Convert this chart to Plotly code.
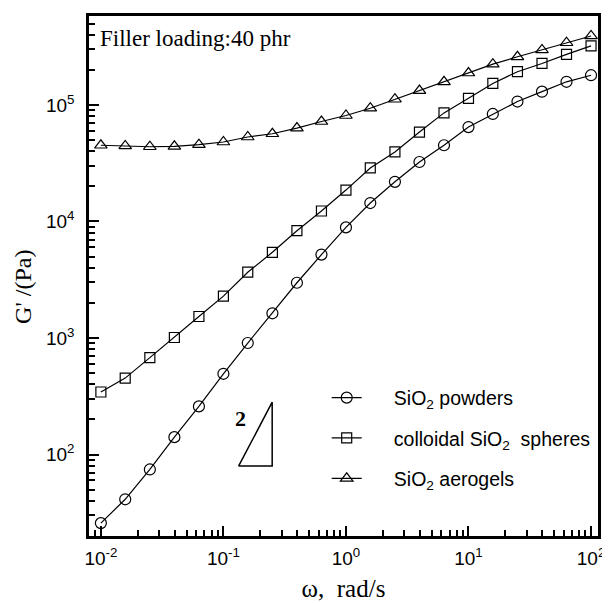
import math
import plotly.graph_objects as go

# ---- data ----
omega = [0.01, 0.0158, 0.0251, 0.0398, 0.0631, 0.1, 0.158, 0.251, 0.398, 0.631,
         1.0, 1.58, 2.51, 3.98, 6.31, 10.0, 15.8, 25.1, 39.8, 63.1, 100.0]

sio2_powders = [25.8, 41.3, 74.5, 141, 259, 493, 906, 1630, 2980, 5200,
                8900, 14400, 21900, 32400, 45100, 64600, 83700, 107000, 130000, 158000, 180000]

colloidal_spheres = [344, 453, 679, 1010, 1530, 2290, 3670, 5440, 8340, 12300,
                     18600, 28800, 39500, 58500, 85500, 114000, 153000, 193000, 227000, 272000, 321000]

sio2_aerogels = [45100, 44500, 43800, 44200, 45600, 48100, 53100, 56600, 63300, 72100,
                 81200, 93800, 112000, 133000, 158000, 188000, 224000, 259000, 297000, 342000, 391000]

PAD = "\u00a0" * 5
series_names = [PAD + "SiO<sub>2</sub> powders",
                PAD + "colloidal SiO<sub>2</sub>  spheres",
                PAD + "SiO<sub>2</sub> aerogels"]

x_tick_vals = [0.01, 0.1, 1, 10, 100]
x_tick_text = ["10<sup>-2</sup>", "10<sup>-1</sup>", "10<sup>0</sup>", "10<sup>1</sup>", "10<sup>2</sup>"]
y_tick_vals = [100, 1000, 10000, 100000]
y_tick_text = ["10<sup>2</sup>", "10<sup>3</sup>", "10<sup>4</sup>", "10<sup>5</sup>"]

# slope-2 guide triangle (x extent, base level, slope)
slope_x = [0.133, 0.25]
slope_base = 79.6
slope_value = 2

SERIF = "Liberation Serif, Times New Roman, serif"
SANS = "Liberation Sans, Arial, sans-serif"

# ---- figure ----
fig = go.Figure()

styles = [
    dict(symbol="circle-open", size=11),
    dict(symbol="square-open", size=10),
    dict(symbol="triangle-up-open", size=11),
]
for name, ys, st in zip(series_names, [sio2_powders, colloidal_spheres, sio2_aerogels], styles):
    fig.add_trace(go.Scatter(
        x=omega, y=ys, name=name, mode="lines+markers",
        line=dict(color="black", width=1.2),
        marker=dict(symbol=st["symbol"], size=st["size"], color="black",
                    line=dict(color="black", width=1.2)),
        legendgroup=name,
    ))

# slope triangle
x0, x1 = slope_x
y_top = slope_base * (x1 / x0) ** slope_value
fig.add_trace(go.Scatter(
    x=[x0, x1, x1, x0], y=[slope_base, y_top, slope_base, slope_base],
    mode="lines", line=dict(color="black", width=1.5),
    showlegend=False, hoverinfo="skip",
))

def minor_ticks(lo_exp, hi_exp):
    out = []
    for e in range(lo_exp, hi_exp + 1):
        for m in range(2, 10):
            out.append(m * 10 ** e)
    return out

axis_common = dict(
    type="log", showline=True, linecolor="black", linewidth=2.5, mirror=True,
    ticks="inside", ticklen=10, tickwidth=2, tickcolor="black",
    showgrid=False, zeroline=False,
    tickfont=dict(family=SANS, size=19, color="black"),
)

fig.update_xaxes(
    **axis_common,
    range=[math.log10(0.008), math.log10(114)],
    tickmode="array", tickvals=x_tick_vals, ticktext=x_tick_text,
    ticklabelstandoff=3,
    minor=dict(ticks="inside", ticklen=6, tickwidth=1.5, tickcolor="black",
               tickmode="array", tickvals=minor_ticks(-3, 2), showgrid=False),
    title=dict(text="ω,  rad/s", font=dict(family=SERIF, size=25, color="black"),
               standoff=12),
)
fig.update_yaxes(
    **axis_common,
    range=[math.log10(20), math.log10(5.8e5)],
    tickmode="array", tickvals=y_tick_vals, ticktext=y_tick_text,
    ticklabelstandoff=8,
    minor=dict(ticks="inside", ticklen=6, tickwidth=1.5, tickcolor="black",
               tickmode="array", tickvals=minor_ticks(1, 5), showgrid=False),
)

# y-axis title (placed slightly below the axis centre, as in the reference)
fig.add_annotation(
    xref="paper", yref="paper", x=-0.1287, y=0.48, xanchor="center", yanchor="middle",
    text="G' /(Pa)", textangle=-90, showarrow=False,
    font=dict(family=SERIF, size=24, color="black"),
)
fig.add_annotation(
    xref="paper", yref="paper", x=0.0175, y=0.957, xanchor="left", yanchor="middle",
    text="Filler loading:40 phr", showarrow=False,
    font=dict(family=SERIF, size=23, color="black"),
)
fig.add_annotation(
    x=math.log10(0.139), y=math.log10(204), xanchor="center", yanchor="middle",
    text="<b>2</b>", showarrow=False,
    font=dict(family=SERIF, size=22, color="black"),
)

# the page body adds an 8 px margin, so the figure is 8 px smaller on each axis
fig.update_layout(
    width=602, height=595,
    margin=dict(l=81, r=8, t=5, b=65),
    paper_bgcolor="white", plot_bgcolor="white",
    showlegend=True,
    legend=dict(
        x=0.467, y=0.303, xanchor="left", yanchor="top",
        bgcolor="rgba(0,0,0,0)", borderwidth=0,
        font=dict(family=SANS, size=19.5, color="black"),
        tracegroupgap=12, traceorder="grouped",
    ),
)

fig.write_html("out.html")
